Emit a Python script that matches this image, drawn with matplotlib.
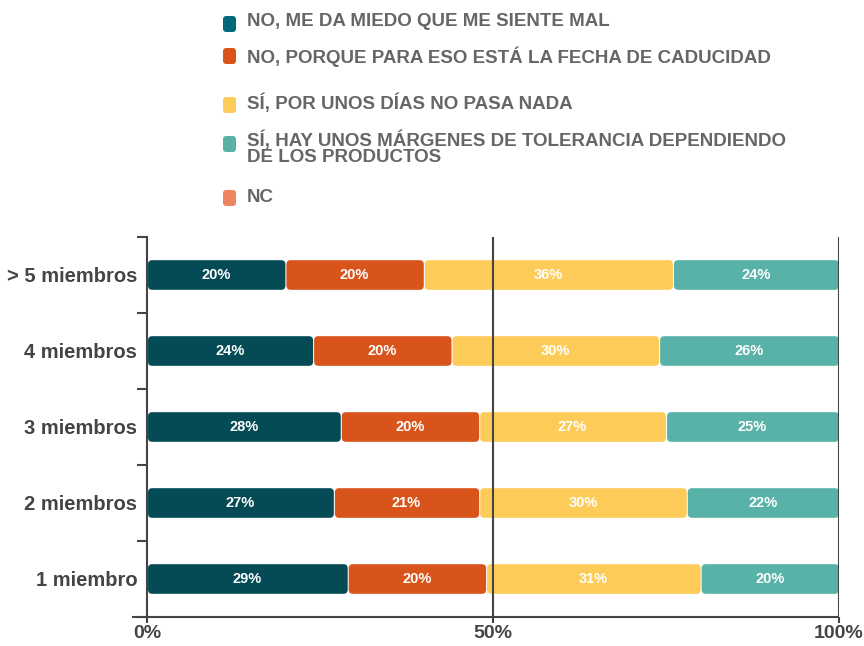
import matplotlib
matplotlib.use('Agg')
import matplotlib.pyplot as plt
from matplotlib.patches import FancyBboxPatch
import numpy as np

plt.rcParams['font.family'] = ['Liberation Sans', 'DejaVu Sans']
plt.rcParams['font.weight'] = 'bold'

# datos
grupos = ['1 miembro', '2 miembros', '3 miembros', '4 miembros', '> 5 miembros']
series = ['NO, ME DA MIEDO QUE ME SIENTE MAL',
          'NO, PORQUE PARA ESO ESTÁ LA FECHA DE CADUCIDAD',
          'SÍ, POR UNOS DÍAS NO PASA NADA',
          'SÍ, HAY UNOS MÁRGENES DE TOLERANCIA DEPENDIENDO\nDE LOS PRODUCTOS',
          'NC']
no_miedo = [29, 27, 28, 24, 20]
no_fecha = [20, 21, 20, 20, 20]
si_dias = [31, 30, 27, 30, 36]
si_margen = [20, 22, 25, 26, 24]
nc = [0, 0, 0, 0, 0]
valores = [no_miedo, no_fecha, si_dias, si_margen, nc]

colores = ['#044B55', '#D9541A', '#FDCB57', '#58B2A8', '#EE8560']
colores_leyenda = ['#03687A', '#D9541A', '#FDCB57', '#58B2A8', '#EE8560']

fig = plt.figure(figsize=(8.64, 6.46), dpi=100)
ax = fig.add_axes([147/864, 29/646, 692/864, 380/646])

y = np.arange(len(grupos))
left = np.zeros(len(grupos))
gap = 0.3
for vals, col in zip(valores, colores):
    bars = ax.barh(y, vals, left=left, height=0.39, color=col)
    for rect, v in zip(bars, vals):
        rect.set_visible(False)
        if v <= 0:
            continue
        x0, y0 = rect.get_x(), rect.get_y()
        w, h = rect.get_width(), rect.get_height()
        p = FancyBboxPatch((x0 + gap / 2, y0), w - gap / 2, h,
                           boxstyle='round,pad=0,rounding_size=0.6',
                           mutation_aspect=6.92 / 76,
                           facecolor=col, edgecolor='none')
        ax.add_patch(p)
        ax.text(x0 + w / 2, y0 + h / 2, f'{v}%', ha='center', va='center',
                color='white', fontsize=10.5, fontweight='bold')
    left += np.array(vals)

ax.set_xlim(0, 100)
ax.set_ylim(-0.5, 4.5)

# ejes
for s in ['top', 'right', 'bottom']:
    ax.spines[s].set_visible(False)
ax.spines['left'].set_color('#444444')
ax.spines['left'].set_linewidth(1.5)
ax.plot([-15 / 692, 1], [0, 0], transform=ax.transAxes, color='#444444',
        lw=1.5, clip_on=False, solid_capstyle='butt')
for xv in [50, 100]:
    ax.axvline(xv, color='#444444', lw=1.5)

ax.set_yticks(np.arange(-0.5, 5, 1))
ax.set_yticklabels([])
ax.set_yticks(y, minor=True)
ax.set_yticklabels(grupos, minor=True, fontsize=14.5, fontweight='bold', color='#444444')
ax.tick_params(axis='y', which='major', length=7, width=1.5, color='#444444')
ax.tick_params(axis='y', which='minor', length=0, pad=7)

ax.set_xticks([0, 50, 100])
ax.set_xticklabels(['0%', '50%', '100%'], fontsize=14, fontweight='bold', color='#444444')
ax.tick_params(axis='x', length=4, width=1.5, color='#444444', pad=2)

# leyenda
ys_leyenda = [24, 56, 105, 144, 198]
ys_texto = [22, 57, 103, 148, 197]
for nombre, col, ym, yt in zip(series, colores_leyenda, ys_leyenda, ys_texto):
    m = FancyBboxPatch((223 / 864, 1 - (ym + 8) / 646), 13 / 864, 16 / 646,
                       boxstyle='round,pad=0,rounding_size=0.004',
                       mutation_aspect=864 / 646,
                       transform=fig.transFigure, facecolor=col, edgecolor='none')
    fig.patches.append(m)
    fig.text(247 / 864, 1 - yt / 646, nombre, ha='left', va='center',
             fontsize=13.5, fontweight='bold', color='#666666', linespacing=0.92)

fig.savefig('out.png', dpi=100)
